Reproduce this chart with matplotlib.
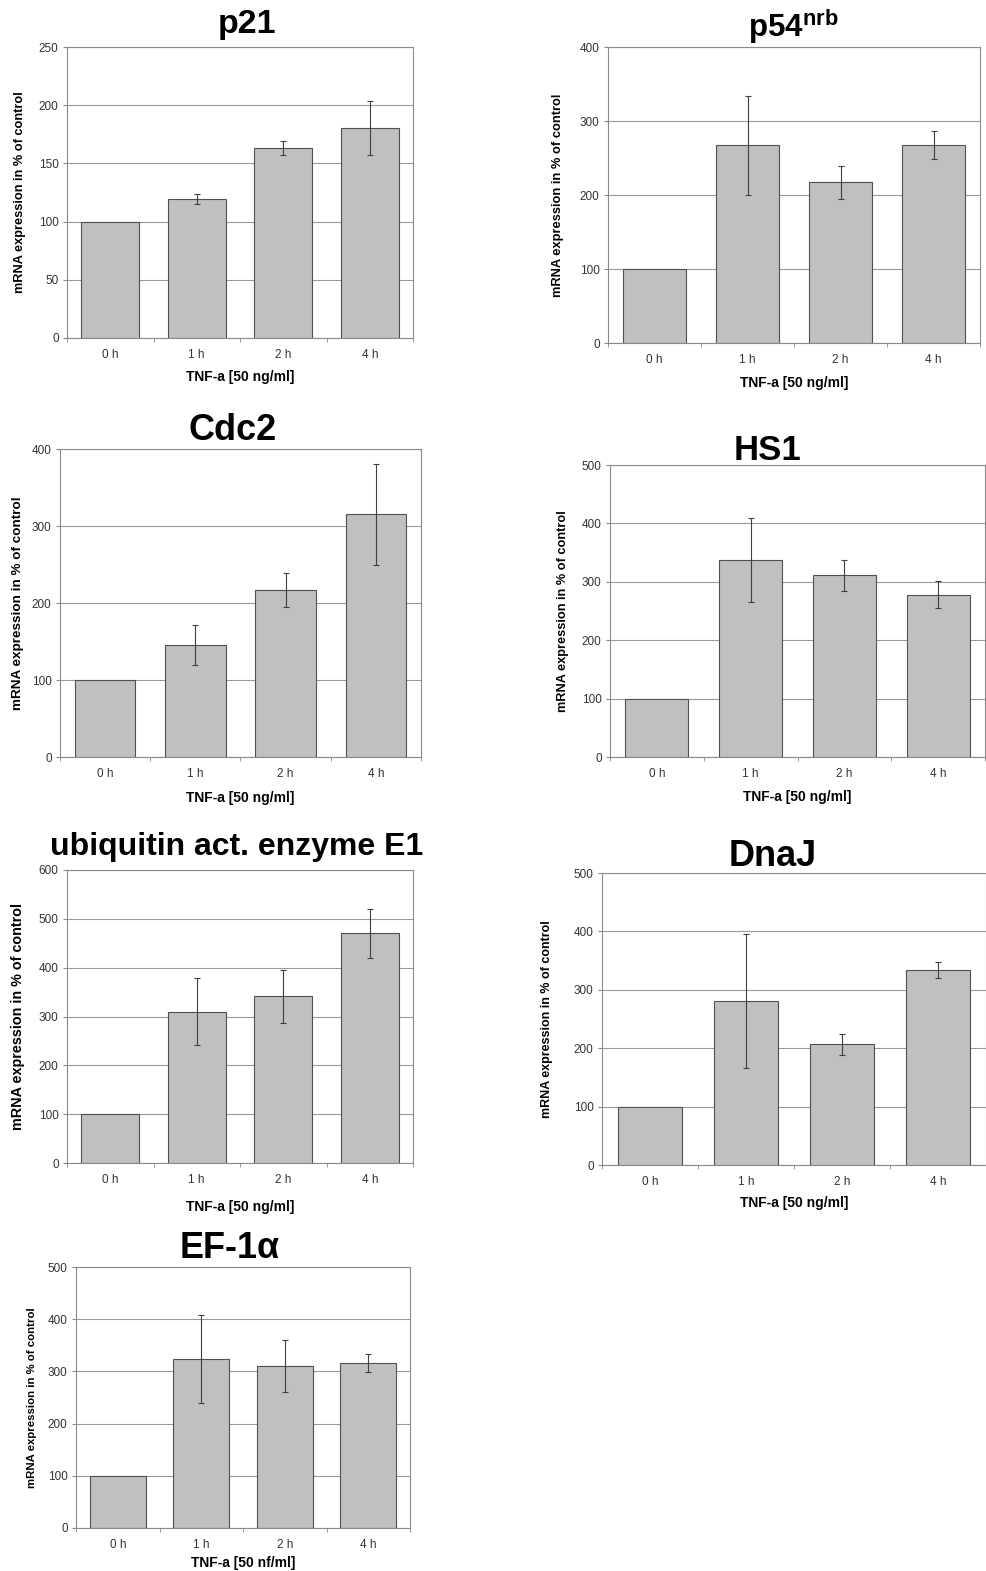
import matplotlib
matplotlib.use("Agg")
import matplotlib.pyplot as plt
import numpy as np

plt.rcParams['font.family'] = ['Liberation Sans', 'DejaVu Sans']
plt.rcParams['mathtext.fontset'] = 'custom'
plt.rcParams['mathtext.rm'] = 'Liberation Sans'
plt.rcParams['mathtext.bf'] = 'Liberation Sans:bold'

# categorias e dados
tempos = ['0 h', '1 h', '2 h', '4 h']

p21_val = [100, 119.5, 163, 180.5]
p21_err = [0, 4.5, 6, 23]

p54_val = [100, 267, 217, 268]
p54_err = [0, 67, 22, 19]

cdc2_val = [100, 146, 217, 315]
cdc2_err = [0, 26, 22, 65]

hs1_val = [100, 338, 311, 278]
hs1_err = [0, 72, 26, 23]

ubq_val = [100, 310, 341, 470]
ubq_err = [0, 69, 55, 51]

dnaj_val = [100, 281, 207, 334]
dnaj_err = [0, 115, 18, 13]

ef1_val = [100, 324, 311, 316]
ef1_err = [0, 84, 50, 18]

W, H = 986, 1571
fig = plt.figure(figsize=(W / 100, H / 100), dpi=100)

def px(x, y):
	return x / W, 1 - y / H

def painel(caixa, valores, erros, ymax, passo, titulo, pos_titulo, tam_titulo, ylab_x, ylab_fs, xlab_y, xlab_txt='TNF-a [50 ng/ml]'):
	l, t, r, b = caixa
	ax = fig.add_axes([l / W, 1 - b / H, (r - l) / W, (b - t) / H])
	x = np.arange(len(valores))
	ax.bar(x, valores, width=0.67, color='#c0c0c0', edgecolor='#505050', linewidth=0.8, zorder=2)
	xe = [i for i in x if erros[i] > 0]
	ax.errorbar(xe, [valores[i] for i in xe], yerr=[erros[i] for i in xe], fmt='none',
		ecolor='#404040', elinewidth=0.8, capsize=2, capthick=0.8, zorder=3)
	ax.set_xlim(-0.5, 3.5)
	ax.set_ylim(0, ymax)
	ax.set_yticks(np.arange(0, ymax + 1, passo))
	ax.yaxis.grid(True, color='#9a9a9a', linewidth=0.8, zorder=0)
	ax.set_axisbelow(True)
	ax.set_xticks(x)
	ax.set_xticklabels(tempos)
	ax.set_xticks(np.arange(-0.5, 4, 1), minor=True)
	ax.tick_params(axis='x', which='major', length=0, pad=8, labelsize=8.5, labelcolor='#333333')
	ax.tick_params(axis='x', which='minor', length=3, color='#888888', direction='out')
	ax.tick_params(axis='y', length=3, color='#888888', pad=3, labelsize=8.5, labelcolor='#333333')
	for s in ax.spines.values():
		s.set_color('#8a8a8a')
		s.set_linewidth(0.8)
	tx, ty = px(*pos_titulo)
	fig.text(tx, ty, titulo, ha='center', va='center', fontsize=tam_titulo, fontweight='bold')
	lx, ly = px(ylab_x, (t + b) / 2)
	fig.text(lx, ly, 'mRNA expression in % of control', rotation=90, ha='center', va='center',
		fontsize=ylab_fs, fontweight='bold')
	cx, cy = px((l + r) / 2, xlab_y)
	fig.text(cx, cy, xlab_txt, ha='center', va='center', fontsize=10, fontweight='bold')
	return ax

painel((67, 47, 413, 338), p21_val, p21_err, 250, 50, 'p21', (247, 25), 24.5, 20, 9.2, 377)
painel((608, 47, 980, 343), p54_val, p54_err, 400, 100, r'p54$^{\mathbf{nrb}}$', (793, 26), 22.5, 558, 9.3, 383)
painel((60, 449, 421, 757), cdc2_val, cdc2_err, 400, 100, 'Cdc2', (233, 431), 26, 18, 9.7, 798)
painel((610, 465, 985, 757), hs1_val, hs1_err, 500, 100, 'HS1', (767, 450), 25, 563, 9.2, 797)
painel((67, 870, 413, 1163), ubq_val, ubq_err, 600, 100, 'ubiquitin act. enzyme E1', (237, 847), 23, 18, 10.4, 1207)
painel((602, 873, 986, 1165), dnaj_val, dnaj_err, 500, 100, 'DnaJ', (773, 857), 26, 547, 9.0, 1203)
painel((76, 1267, 410, 1528), ef1_val, ef1_err, 500, 100, 'EF-1α', (230, 1249), 26, 32, 8.2, 1563, 'TNF-a [50 nf/ml]')

fig.savefig('out.png', dpi=100)
